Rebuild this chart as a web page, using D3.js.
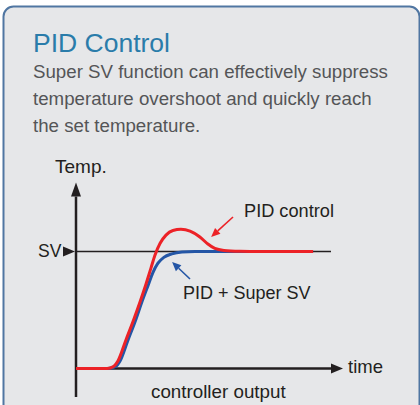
<!DOCTYPE html>
<html>
<head>
<meta charset="utf-8">
<script src="https://cdn.jsdelivr.net/npm/d3@7"></script>
<style>
    html, body { margin: 0; padding: 0; background: #fff; }
    svg { display: block; font-family: "Liberation Sans", Arial, sans-serif; }
</style>
</head>
<body>
<svg id="chart" width="420" height="405"></svg>
<script>
// time / temperature readings (SV = 100)
var pidTime   = [0, 11.6, 14.2, 15.7, 18.7, 21.7, 24, 26.2, 28.1, 29.6, 31.5, 33.7, 36.3, 39.3, 42.7, 46.4, 49.4, 52, 55.4, 61.4, 68.9, 88.8];
var pidTemp   = [0, 0, 2, 6.4, 24.4, 42.3, 57, 72, 86, 97, 107, 114, 118, 119, 117.5, 112.4, 106.4, 102.6, 100.9, 100.2, 100, 100];
var superTime = [0, 12, 15, 16.5, 19.5, 22.5, 24.7, 27, 28.8, 30.7, 32.9, 35.9, 39.7, 44.6, 88.8];
var superTemp = [0, 0, 2, 6.4, 24.4, 42.3, 57, 71, 82, 90, 95, 98, 99.6, 100, 100];

var setValue = 100;
var svLineEnd = 95.5;

var title = 'PID Control';
var bodyLines = [
    'Super SV function can effectively suppress',
    'temperature overshoot and quickly reach',
    'the set temperature.'
];

var svg = d3.select('#chart');

// panel
svg.append('rect')
    .attr('x', 3.5).attr('y', 6.5)
    .attr('width', 416).attr('height', 430)
    .attr('rx', 10)
    .attr('fill', '#e6e7e9')
    .attr('stroke', '#5076a2')
    .attr('stroke-width', 2);

svg.append('text')
    .attr('x', 33).attr('y', 52)
    .attr('font-size', 26.5)
    .attr('fill', '#2a7caa')
    .text(title);

svg.selectAll('text.body')
    .data(bodyLines)
    .enter().append('text')
    .attr('class', 'body')
    .attr('x', 33)
    .attr('y', (d, i) => 78 + i * 27)
    .attr('font-size', 18.7)
    .attr('fill', '#545557')
    .text(d => d);

var x = d3.scaleLinear().domain([0, 100]).range([76, 343]);
var y = d3.scaleLinear().domain([0, 100]).range([368.5, 251.5]);

var ink = '#231f20';

// axes
svg.append('line')
    .attr('x1', x(0)).attr('x2', x(0))
    .attr('y1', 397).attr('y2', y(147))
    .attr('stroke', ink).attr('stroke-width', 2.5);

svg.append('path')
    .attr('d', `M${x(0)},${y(159)} L${x(0) - 5},${y(147)} L${x(0) + 5},${y(147)} Z`)
    .attr('fill', ink);

svg.append('line')
    .attr('x1', x(0)).attr('x2', x(96))
    .attr('y1', y(0)).attr('y2', y(0))
    .attr('stroke', ink).attr('stroke-width', 2.5);

svg.append('path')
    .attr('d', `M${x(100)},${y(0)} L${x(95.5)},${y(0) - 5} L${x(95.5)},${y(0) + 5} Z`)
    .attr('fill', ink);

// set value line
svg.append('line')
    .attr('x1', x(0)).attr('x2', x(svLineEnd))
    .attr('y1', y(setValue)).attr('y2', y(setValue))
    .attr('stroke', ink).attr('stroke-width', 1.4);

svg.append('path')
    .attr('d', `M${x(0) - 1},${y(setValue)} L${x(0) - 13},${y(setValue) - 5} L${x(0) - 13},${y(setValue) + 5} Z`)
    .attr('fill', ink);

svg.append('text')
    .attr('x', 38).attr('y', 257)
    .attr('font-size', 17.5).attr('fill', ink)
    .text('SV');

svg.append('text')
    .attr('x', 55).attr('y', 172.5)
    .attr('font-size', 19).attr('fill', ink)
    .text('Temp.');

svg.append('text')
    .attr('x', 348).attr('y', 373)
    .attr('font-size', 18.5).attr('fill', ink)
    .text('time');

svg.append('text')
    .attr('x', 151).attr('y', 398)
    .attr('font-size', 18.8).attr('fill', ink)
    .text('controller output');

// curves
var line = d3.line()
    .x(d => x(d[0]))
    .y(d => y(d[1]))
    .curve(d3.curveMonotoneX);

svg.append('path')
    .attr('d', line(d3.zip(superTime, superTemp)))
    .attr('fill', 'none')
    .attr('stroke', '#2456a6')
    .attr('stroke-width', 3);

svg.append('path')
    .attr('d', line(d3.zip(pidTime, pidTemp)))
    .attr('fill', 'none')
    .attr('stroke', '#ec2227')
    .attr('stroke-width', 3);

// annotations
function arrow(from, to, color) {
    var x1 = x(from[0]), y1 = y(from[1]), x2 = x(to[0]), y2 = y(to[1]);
    var a = Math.atan2(y2 - y1, x2 - x1);
    var len = 9, half = 4;
    var bx = x2 - len * Math.cos(a), by = y2 - len * Math.sin(a);
    svg.append('line')
        .attr('x1', x1).attr('y1', y1).attr('x2', bx).attr('y2', by)
        .attr('stroke', color).attr('stroke-width', 1.6);
    svg.append('path')
        .attr('d', `M${x2},${y2} L${bx - half * Math.sin(a)},${by + half * Math.cos(a)} L${bx + half * Math.sin(a)},${by - half * Math.cos(a)} Z`)
        .attr('fill', color);
}

arrow([58.8, 129.5], [50.6, 112.4], '#ec2227');
arrow([42.7, 76.5], [36, 91], '#2456a6');

svg.append('text')
    .attr('x', 244).attr('y', 217)
    .attr('font-size', 18.2).attr('fill', ink)
    .text('PID control');

svg.append('text')
    .attr('x', 183).attr('y', 299)
    .attr('font-size', 18).attr('fill', ink)
    .text('PID + Super SV');
</script>
</body>
</html>
